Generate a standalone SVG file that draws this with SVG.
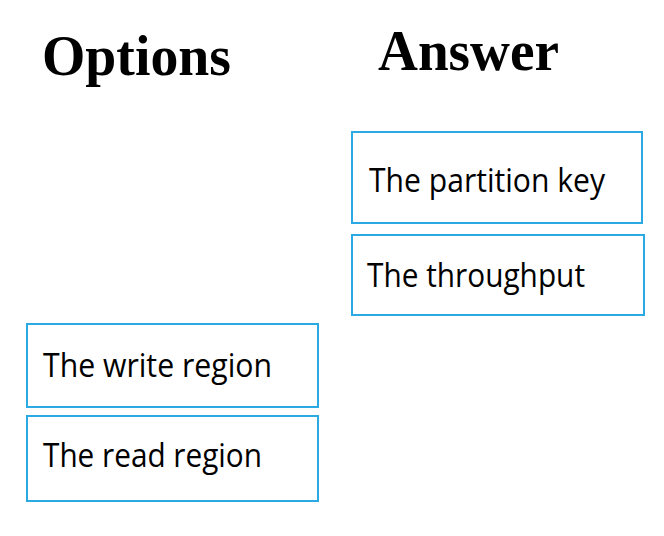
<svg xmlns="http://www.w3.org/2000/svg" width="664" height="536" viewBox="0 0 664 536">
<style>
.h{font-family:"Liberation Serif",serif;font-weight:bold;font-size:56px;fill:#000}
.box{fill:#fff;stroke:#2aa9e3;stroke-width:2}
.t{font-family:"Open Sans","Noto Sans",sans-serif;font-size:32px;fill:#000}
</style>
<rect width="664" height="536" fill="#fff"/>
<text class="h" x="42" y="75" textLength="189" lengthAdjust="spacingAndGlyphs">Options</text>
<text class="h" x="378" y="70" textLength="181" lengthAdjust="spacingAndGlyphs">Answer</text>
<g id="answer-partition-key">
<rect class="box" x="352" y="132" width="290" height="91"/>
<text class="t" x="369" y="192" textLength="236" lengthAdjust="spacingAndGlyphs">The partition key</text>
</g>
<g id="answer-throughput">
<rect class="box" x="352" y="235" width="292" height="80"/>
<text class="t" x="367" y="287" textLength="218" lengthAdjust="spacingAndGlyphs">The throughput</text>
</g>
<g id="option-write-region">
<rect class="box" x="27" y="324" width="291" height="83"/>
<text class="t" x="43" y="377" textLength="229" lengthAdjust="spacingAndGlyphs">The write region</text>
</g>
<g id="option-read-region">
<rect class="box" x="27" y="416" width="291" height="85"/>
<text class="t" x="43" y="467" textLength="219" lengthAdjust="spacingAndGlyphs">The read region</text>
</g>
<g id="connectors"></g>
</svg>
